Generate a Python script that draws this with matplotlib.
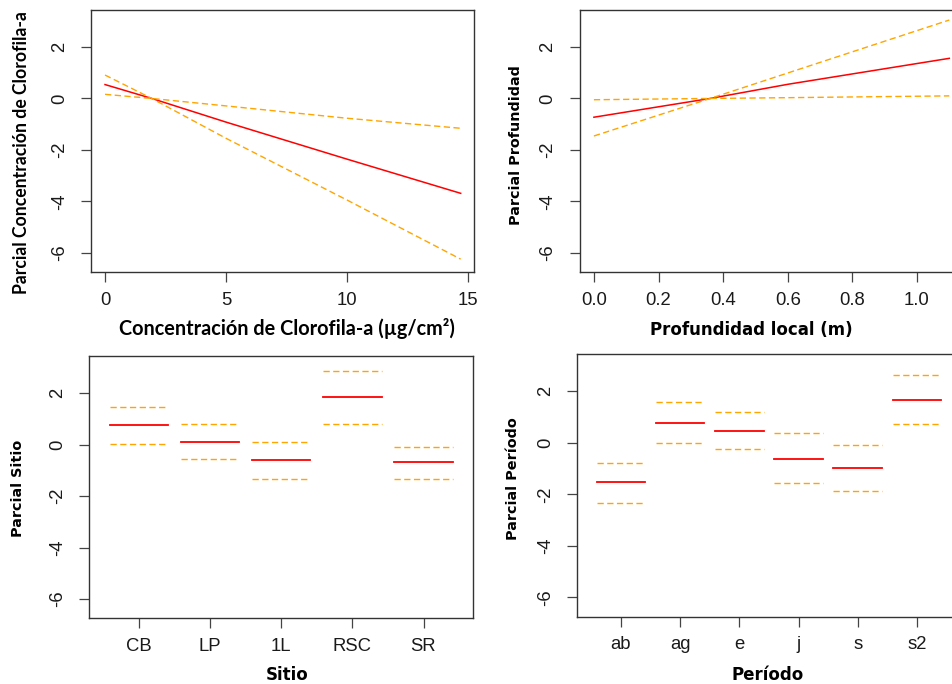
import matplotlib
matplotlib.use("Agg")
import matplotlib.pyplot as plt

# ---- Partial effect of chlorophyll-a concentration ----
clorofila_x = [0.0, 1.93, 5.0, 10.0, 14.7]
clorofila_fit = [0.54, 0.0, -0.92, -2.36, -3.69]
clorofila_band_a = [0.91, 0.0, -1.55, -3.95, -6.25]
clorofila_band_b = [0.16, 0.0, -0.29, -0.77, -1.16]

# ---- Partial effect of local depth ----
profundidad_x = [0.0, 0.36, 0.6, 1.1]
profundidad_fit = [-0.73, 0.0, 0.55, 1.56]
profundidad_band_a = [-1.46, 0.0, 0.99, 3.05]
profundidad_band_b = [-0.05, 0.0, 0.03, 0.10]

# ---- Partial effect of site ----
sitios = ["CB", "LP", "1L", "RSC", "SR"]
sitio_fit = [0.75, 0.10, -0.61, 1.83, -0.69]
sitio_sup = [1.46, 0.78, 0.10, 2.86, -0.09]
sitio_inf = [0.03, -0.57, -1.33, 0.78, -1.33]

# ---- Partial effect of sampling period ----
periodos = ["ab", "ag", "e", "j", "s", "s2"]
periodo_fit = [-1.52, 0.79, 0.47, -0.61, -0.97, 1.67]
periodo_sup = [-0.77, 1.58, 1.19, 0.39, -0.08, 2.63]
periodo_inf = [-2.32, -0.01, -0.22, -1.56, -1.87, 0.75]

y_ticks = [-6, -4, -2, 0, 2]
y_limits = (-6.75, 3.44)

W, H = 952, 684
RED = "#ff0000"
ORANGE = "#ffa500"
TICK_FONT = "Liberation Sans"
DASH = (0, (4.5, 2.5))

fig = plt.figure(figsize=(W / 100, H / 100), dpi=100)


def px_axes(left, top, right, bottom):
    return fig.add_axes([left / W, 1 - bottom / H, (right - left) / W, (bottom - top) / H])


def style(ax, xticks, xticklabels):
    ax.set_ylim(*y_limits)
    ax.set_yticks(y_ticks)
    ax.set_yticklabels([str(v) for v in y_ticks], rotation=90, va="center",
                       fontfamily=TICK_FONT, fontsize=13.3, color="#1a1a1a")
    ax.set_xticks(xticks)
    ax.set_xticklabels(xticklabels, fontfamily=TICK_FONT, fontsize=13.3, color="#1a1a1a")
    ax.tick_params(axis="both", length=7.2, width=0.9, color="#444444", direction="out")
    ax.tick_params(axis="x", pad=7)
    ax.tick_params(axis="y", pad=9.5)
    for s in ax.spines.values():
        s.set_color("#333333")
        s.set_linewidth(1.0)


def ylabel(x, y, text, family, size):
    fig.text(x / W, 1 - y / H, text, rotation=90, ha="center", va="center",
             fontfamily=family, fontweight="bold", fontsize=size, color="black")


def xlabel(x, y, text, family, size):
    fig.text(x / W, 1 - y / H, text, ha="center", va="baseline",
             fontfamily=family, fontweight="bold", fontsize=size, color="black")


# Top left: chlorophyll-a
ax1 = px_axes(91, 10, 474, 272)
ax1.plot(clorofila_x, clorofila_fit, color=RED, lw=1.1)
ax1.plot(clorofila_x, clorofila_band_a, color=ORANGE, lw=1.0, ls=DASH)
ax1.plot(clorofila_x, clorofila_band_b, color=ORANGE, lw=1.0, ls=DASH)
ax1.set_xlim(-0.58, 15.25)
style(ax1, [0, 5, 10, 15], ["0", "5", "10", "15"])
ylabel(21.7, 153, "Parcial Concentración de Clorofila-a", "Lato", 12.7)
xlabel(286.5, 335, "Concentración de Clorofila-a (µg/cm²)", "Lato", 14.3)

# Top right: local depth (right edge runs past the figure)
ax2 = px_axes(579.7, 10, 963.5, 272)
ax2.plot(profundidad_x, profundidad_fit, color=RED, lw=1.1)
ax2.plot(profundidad_x, profundidad_band_a, color=ORANGE, lw=1.0, ls=DASH)
ax2.plot(profundidad_x, profundidad_band_b, color=ORANGE, lw=1.0, ls=DASH)
ax2.set_xlim(-0.044, 1.144)
style(ax2, [0, 0.2, 0.4, 0.6, 0.8, 1.0], ["0.0", "0.2", "0.4", "0.6", "0.8", "1.0"])
ylabel(515.7, 145, "Parcial Profundidad", "DejaVu Sans", 10.4)
xlabel(751.7, 335, "Profundidad local (m)", "DejaVu Sans", 12)

# Bottom left: site
ax3 = px_axes(89.3, 356, 473.3, 618.3)
half = 0.41
for i, (f, u, l) in enumerate(zip(sitio_fit, sitio_sup, sitio_inf), start=1):
    ax3.plot([i - half, i + half], [f, f], color=RED, lw=1.3)
    ax3.plot([i - half, i + half], [u, u], color=ORANGE, lw=1.0, ls=DASH)
    ax3.plot([i - half, i + half], [l, l], color=ORANGE, lw=1.0, ls=DASH)
ax3.set_xlim(0.3, 5.7)
style(ax3, range(1, len(sitios) + 1), sitios)
ylabel(18.3, 488, "Parcial Sitio", "DejaVu Sans", 10.4)
xlabel(287.5, 680, "Sitio", "DejaVu Sans", 12)

# Bottom right: period (right edge runs past the figure)
ax4 = px_axes(577, 354.3, 960.8, 616.7)
for i, (f, u, l) in enumerate(zip(periodo_fit, periodo_sup, periodo_inf), start=1):
    ax4.plot([i - half, i + half], [f, f], color=RED, lw=1.3)
    ax4.plot([i - half, i + half], [u, u], color=ORANGE, lw=1.0, ls=DASH)
    ax4.plot([i - half, i + half], [l, l], color=ORANGE, lw=1.0, ls=DASH)
ax4.set_xlim(0.26, 6.74)
style(ax4, range(1, len(periodos) + 1), periodos)
ylabel(513.3, 478.5, "Parcial Período", "DejaVu Sans", 10.4)
xlabel(768, 680, "Período", "DejaVu Sans", 12)

fig.savefig("out.png", dpi=100)
